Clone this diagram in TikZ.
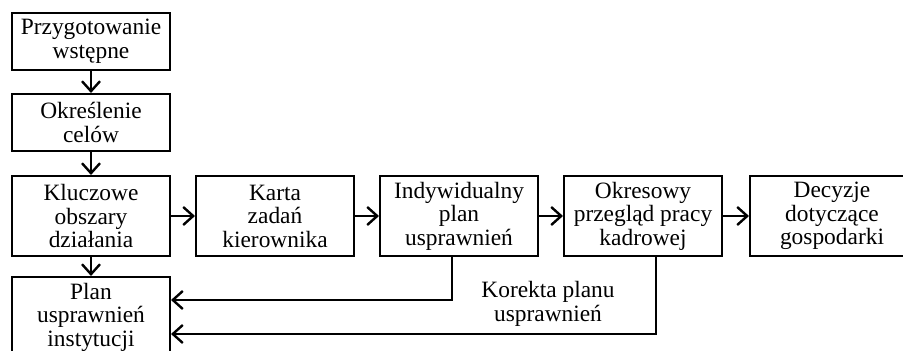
\documentclass[tikz,border=0pt]{standalone}
\usepackage{fontspec}
\setmainfont{Liberation Serif}
\usetikzlibrary{arrows.meta, positioning}

\begin{document}
\begin{tikzpicture}[
  font=\fontsize{11.7}{11.75}\selectfont,
  >={Straight Barb[length=5pt,width=9pt,line width=1.2pt]},
  node distance = 12pt,
  pbox/.style   = {rectangle, draw, line width=1pt, align=center,
                   inner sep=2pt, minimum width=79pt},
  small/.style  = {pbox, minimum height=28.5pt},
  tall/.style   = {pbox, minimum height=40pt},
  arr/.style    = {->, line width=1pt},
  lab/.style    = {align=center}]

\useasboundingbox (0,0) rectangle (451.5pt,-175.5pt);

% ---- left column: preparation steps ---------------------------------------
\node[small, anchor=north west] (prep) at (5.5pt,-6pt) {Przygotowanie\\ wstępne};
\node[small, below=11pt of prep] (goals) {Określenie\\ celów};
\node[tall, below=11.5pt of goals] (areas) {Kluczowe\\ obszary\\ działania};
\node[tall, below=9.5pt of areas] (plan) {Plan\\ usprawnień\\ instytucji};

% ---- main row --------------------------------------------------------------
\node[tall, right=of areas] (card) {Karta\\ zadań\\ kierownika};
\node[tall, right=of card] (indiv) {Indywidualny\\ plan\\ usprawnień};
\node[tall, right=of indiv] (review) {Okresowy\\ przegląd pracy\\ kadrowej};
\node[tall, right=13pt of review, minimum width=82pt] (decis) {Decyzje\\ dotyczące\\ gospodarki};

% chain arrows
\draw[arr] (prep) -- (goals);
\draw[arr] (goals) -- (areas);
\draw[arr] (areas) -- (plan);
\draw[arr] (areas) -- (card);
\draw[arr] (card) -- (indiv);
\draw[arr] (indiv) -- (review);
\draw[arr] (review) -- (decis);

% ---- feedback: plan correction ---------------------------------------------
\draw[arr] ([xshift=-3.5pt]indiv.south) |- ([yshift=8.5pt]plan.east);
\draw[arr] ([xshift=6.25pt]review.south) |- ([yshift=-8.5pt]plan.east);
\node[lab] (fix) at (274pt,-152pt) {Korekta planu\\ usprawnień};

\end{tikzpicture}
\end{document}
